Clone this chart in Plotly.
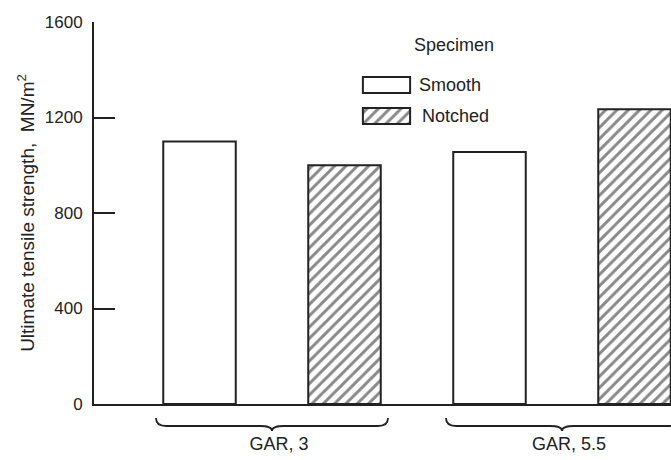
import plotly.graph_objects as go

# Ultimate tensile strength by grain aspect ratio (GAR) and specimen type
groups = ["GAR, 3", "GAR, 5.5"]
group_pos = [0, 1]
smooth = [1100, 1055]
notched = [1000, 1235]
y_ticks = [0, 400, 800, 1200, 1600]

INK = "#222222"
FONT = "Liberation Sans, Arial, sans-serif"
W, H = 671, 460
M_L, M_R, M_T, M_B = 94, 0, 22, 56
PW, PH = W - M_L - M_R, H - M_T - M_B

def px_to_paper_x(px):
    return (px - M_L) / PW

def px_to_paper_y(py):
    return (H - M_B - py) / PH

hatch = dict(shape="/", size=8, solidity=0.36, fgcolor="#111111", bgcolor="white",
             fillmode="overlay")
outline = dict(color=INK, width=2)

fig = go.Figure()
fig.add_trace(go.Bar(x=group_pos, y=smooth, name="Smooth", marker=dict(color="white", line=outline),
                     showlegend=False))
fig.add_trace(go.Bar(x=group_pos, y=notched, name="Notched",
                     marker=dict(color="white", line=outline, pattern=hatch), showlegend=False))

# key swatches drawn as bars on a small inset axis pair
fig.add_trace(go.Bar(x=[1], y=[1], orientation="h", width=0.52, xaxis="x2", yaxis="y2",
                     marker=dict(color="white", line=outline), showlegend=False, hoverinfo="skip"))
fig.add_trace(go.Bar(x=[1], y=[0], orientation="h", width=0.52, xaxis="x2", yaxis="y2",
                     marker=dict(color="white", line=outline, pattern=hatch), showlegend=False,
                     hoverinfo="skip"))

# curly braces under each group
shapes = []
half, curl, dip = 0.40, 0.035, 0.042
y_end, y_mid, y_tip = px_to_paper_y(418), px_to_paper_y(426), px_to_paper_y(431)
for c in group_pos:
    xl, xr = c - half, c + half
    path = (f"M {xl},{y_end} Q {xl},{y_mid} {xl + curl},{y_mid} "
            f"L {c - dip},{y_mid} Q {c},{y_mid} {c},{y_tip} "
            f"Q {c},{y_mid} {c + dip},{y_mid} "
            f"L {xr - curl},{y_mid} Q {xr},{y_mid} {xr},{y_end}")
    shapes.append(dict(type="path", path=path, xref="x", yref="paper",
                       line=dict(color=INK, width=1.8)))

label_font = dict(family=FONT, size=18, color=INK)
annotations = [
    dict(text="Specimen", x=px_to_paper_x(454), y=px_to_paper_y(45), xref="paper", yref="paper",
         xanchor="center", yanchor="middle", showarrow=False, font=label_font),
    dict(text="Smooth", x=px_to_paper_x(417), y=px_to_paper_y(85), xref="paper", yref="paper",
         xanchor="left", yanchor="middle", showarrow=False, font=label_font),
    dict(text="Notched", x=px_to_paper_x(420), y=px_to_paper_y(116), xref="paper", yref="paper",
         xanchor="left", yanchor="middle", showarrow=False, font=label_font),
]

fig.update_layout(
    width=W, height=H, autosize=False,
    margin=dict(l=M_L, r=M_R, t=M_T, b=M_B, pad=0),
    paper_bgcolor="white", plot_bgcolor="white",
    barmode="group", bargap=0.0, bargroupgap=0.5,
    shapes=shapes, annotations=annotations,
    font=dict(family=FONT, color=INK),
    xaxis=dict(range=[(M_L - 272) / 290, (W - 272) / 290], tickvals=group_pos, ticktext=groups,
               ticks="", showline=True, linecolor=INK, linewidth=1.8, showgrid=False,
               zeroline=False, ticklabelstandoff=22, ticklabelshift=7,
               tickfont=dict(family=FONT, size=18, color=INK)),
    yaxis=dict(range=[0, 1600], tickvals=y_ticks, ticks="inside", ticklen=21, tickwidth=1.8,
               tickcolor=INK, showline=True, linecolor=INK, linewidth=1.8, showgrid=False,
               zeroline=False, ticklabelstandoff=6,
               tickfont=dict(family=FONT, size=17, color=INK),
               title=dict(text="Ultimate tensile strength,  MN/m<sup>2</sup>", standoff=5,
                          font=dict(family=FONT, size=19, color=INK))),
    xaxis2=dict(domain=[px_to_paper_x(361), px_to_paper_x(412)], range=[-0.04, 1.04],
                anchor="y2", visible=False, fixedrange=True),
    yaxis2=dict(domain=[px_to_paper_y(131.5), px_to_paper_y(69.5)], range=[-0.5, 1.5],
                anchor="x2", visible=False, fixedrange=True),
)

fig.write_html("out.html")
